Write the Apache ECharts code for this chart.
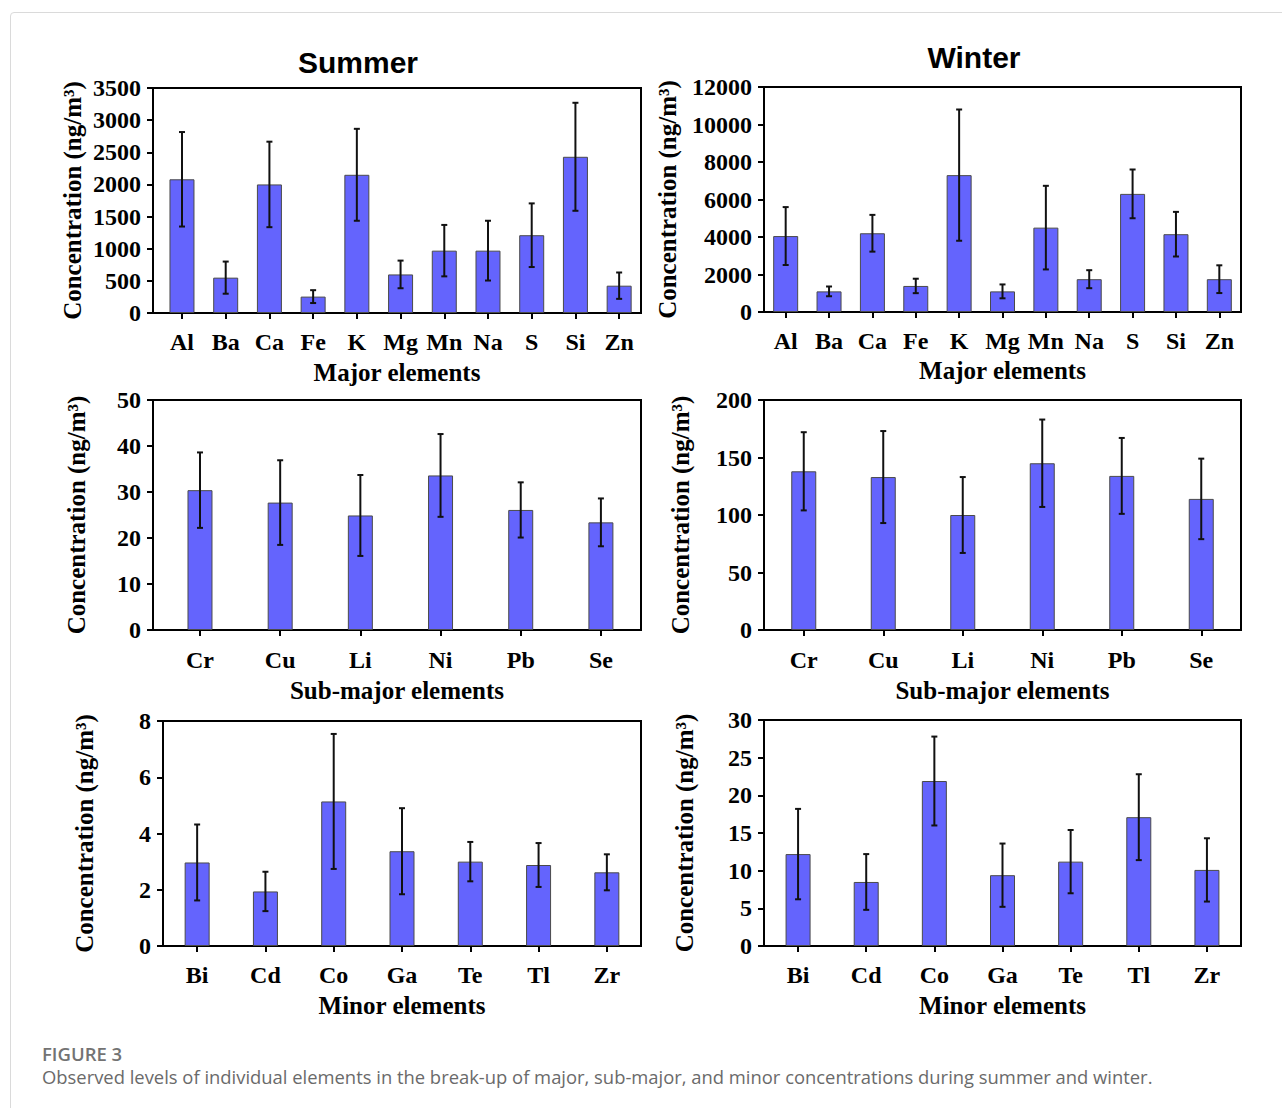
<!DOCTYPE html>
<html>
<head>
<meta charset="utf-8">
<title>Element concentrations, summer and winter</title>
<script src="https://cdn.jsdelivr.net/npm/echarts@6/dist/echarts.min.js"></script>
<style>
  html, body { margin: 0; padding: 0; background: #fff; }
  #wrap { position: relative; width: 1282px; height: 1108px; overflow: hidden; }
  #card {
    position: absolute; left: 10px; top: 12px; width: 1320px; height: 1200px;
    border: 1.5px solid #dadada; border-radius: 4px; box-sizing: border-box;
  }
  #chart { position: absolute; left: 0; top: 0; width: 1282px; height: 1108px; }
</style>
</head>
<body>
<div id="wrap">
  <div id="card"></div>
  <div id="chart"></div>
</div>
<script>
// Mean concentrations and standard deviations (ng/m³)
const majorCats = ['Al', 'Ba', 'Ca', 'Fe', 'K', 'Mg', 'Mn', 'Na', 'S', 'Si', 'Zn'];
const summerMajorMean = [2080, 550, 2000, 255, 2150, 600, 970, 970, 1210, 2430, 425];
const summerMajorSd   = [735, 250, 665, 100, 715, 215, 400, 465, 495, 840, 205];
const winterMajorMean = [4050, 1100, 4200, 1390, 7300, 1100, 4500, 1750, 6300, 4150, 1750];
const winterMajorSd   = [1545, 260, 980, 385, 3500, 370, 2230, 480, 1300, 1190, 740];

const subCats = ['Cr', 'Cu', 'Li', 'Ni', 'Pb', 'Se'];
const summerSubMean = [30.4, 27.7, 24.9, 33.6, 26.1, 23.4];
const summerSubSd   = [8.2, 9.2, 8.8, 9.0, 6.0, 5.2];
const winterSubMean = [138, 133, 100, 145, 134, 114];
const winterSubSd   = [34, 40, 33, 38, 33, 35];

const minorCats = ['Bi', 'Cd', 'Co', 'Ga', 'Te', 'Tl', 'Zr'];
const summerMinorMean = [2.97, 1.94, 5.14, 3.37, 3.0, 2.88, 2.62];
const summerMinorSd   = [1.35, 0.70, 2.40, 1.53, 0.70, 0.78, 0.64];
const winterMinorMean = [12.2, 8.5, 21.9, 9.4, 11.2, 17.1, 10.1];
const winterMinorSd   = [6.0, 3.7, 5.9, 4.2, 4.2, 5.7, 4.2];

// y-axis ranges
const summerMajorAxis = { max: 3500, interval: 500 };
const winterMajorAxis = { max: 12000, interval: 2000 };
const summerSubAxis   = { max: 50, interval: 10 };
const winterSubAxis   = { max: 200, interval: 50 };
const summerMinorAxis = { max: 8, interval: 2 };
const winterMinorAxis = { max: 30, interval: 5 };

const yTitle = 'Concentration (ng/m³)';
const SERIF = '"Liberation Serif", "Times New Roman", serif';
const BAR_COLOR = '#6464fd';

// panel layout: grid box, x padding (in category units), label gaps
const panels = [
  { cats: majorCats, mean: summerMajorMean, sd: summerMajorSd, axis: summerMajorAxis, xName: 'Major elements',
    grid: { left: 153, top: 88, width: 488, height: 225 }, xMin: -0.663, yGap: 68, xLabelGap: 17, xNameGap: 47 },
  { cats: majorCats, mean: winterMajorMean, sd: winterMajorSd, axis: winterMajorAxis, xName: 'Major elements',
    grid: { left: 764, top: 87, width: 477, height: 225 }, xMin: -0.5, yGap: 84, xLabelGap: 17, xNameGap: 46 },
  { cats: subCats, mean: summerSubMean, sd: summerSubSd, axis: summerSubAxis, xName: 'Sub-major elements',
    grid: { left: 153, top: 400, width: 488, height: 230 }, xMin: -0.586, yGap: 64, xLabelGap: 18, xNameGap: 48 },
  { cats: subCats, mean: winterSubMean, sd: winterSubSd, axis: winterSubAxis, xName: 'Sub-major elements',
    grid: { left: 764, top: 400, width: 477, height: 230 }, xMin: -0.5, yGap: 71, xLabelGap: 18, xNameGap: 48 },
  { cats: minorCats, mean: summerMinorMean, sd: summerMinorSd, axis: summerMinorAxis, xName: 'Minor elements',
    grid: { left: 163, top: 721, width: 478, height: 225 }, xMin: -0.5, yGap: 66, xLabelGap: 17, xNameGap: 47 },
  { cats: minorCats, mean: winterMinorMean, sd: winterMinorSd, axis: winterMinorAxis, xName: 'Minor elements',
    grid: { left: 764, top: 720, width: 477, height: 226 }, xMin: -0.5, yGap: 67, xLabelGap: 17, xNameGap: 47 }
];

// vertical error bar with short caps
function errorBar(params, api) {
  const x = api.value(0), m = api.value(1), s = api.value(2);
  const hi = api.coord([x, m + s]);
  const lo = api.coord([x, m - s]);
  const cap = 3;
  const style = { stroke: '#111', lineWidth: 2 };
  return {
    type: 'group',
    children: [
      { type: 'line', shape: { x1: hi[0], y1: hi[1], x2: lo[0], y2: lo[1] }, style },
      { type: 'line', shape: { x1: hi[0] - cap, y1: hi[1], x2: hi[0] + cap, y2: hi[1] }, style },
      { type: 'line', shape: { x1: lo[0] - cap, y1: lo[1], x2: lo[0] + cap, y2: lo[1] }, style }
    ]
  };
}

const grid = [], xAxis = [], yAxis = [], series = [];
panels.forEach((p, k) => {
  const idx = p.cats.map((_, i) => i);
  grid.push(Object.assign({ show: true, borderColor: '#000', borderWidth: 2,
    backgroundColor: 'transparent', containLabel: false, outerBoundsMode: 'none' }, p.grid));
  xAxis.push({
    type: 'value', gridIndex: k, min: p.xMin, max: p.cats.length - 0.5,
    splitLine: { show: false },
    axisLine: { show: true, onZero: false, lineStyle: { color: '#000', width: 2 } },
    axisTick: { show: true, customValues: idx, length: 6, lineStyle: { color: '#000', width: 2 } },
    axisLabel: { customValues: idx, formatter: v => p.cats[Math.round(v)], margin: p.xLabelGap,
      color: '#000', fontFamily: SERIF, fontWeight: 'bold', fontSize: 24 },
    name: p.xName, nameLocation: 'middle', nameGap: p.xNameGap,
    nameTextStyle: { color: '#000', fontFamily: SERIF, fontWeight: 'bold', fontSize: 25 }
  });
  yAxis.push({
    type: 'value', gridIndex: k, min: 0, max: p.axis.max, interval: p.axis.interval,
    splitLine: { show: false },
    axisLine: { show: true, onZero: false, lineStyle: { color: '#000', width: 2 } },
    axisTick: { show: true, length: 6, lineStyle: { color: '#000', width: 2 } },
    axisLabel: { margin: 12, formatter: v => String(v), color: '#000',
      fontFamily: SERIF, fontWeight: 'bold', fontSize: 24 },
    name: yTitle, nameLocation: 'middle', nameGap: p.yGap,
    nameTextStyle: { color: '#000', fontFamily: SERIF, fontWeight: 'bold', fontSize: 25 }
  });
  series.push({
    type: 'bar', xAxisIndex: k, yAxisIndex: k, barWidth: 25,
    itemStyle: { color: BAR_COLOR, borderColor: '#4a4a4a', borderWidth: 1 },
    data: p.mean.map((m, i) => [i, m])
  });
  series.push({
    type: 'custom', xAxisIndex: k, yAxisIndex: k, z: 5,
    renderItem: errorBar,
    data: p.mean.map((m, i) => [i, m, p.sd[i]])
  });
});

const chart = echarts.init(document.getElementById('chart'), null, { renderer: 'svg' });
chart.setOption({
  animation: false,
  grid, xAxis, yAxis, series,
  graphic: [
    { type: 'text', x: 358, y: 62, style: { text: 'Summer', textAlign: 'center', textVerticalAlign: 'middle',
      fill: '#000', font: 'bold 30px "Liberation Sans", Arial, sans-serif' } },
    { type: 'text', x: 974, y: 57, style: { text: 'Winter', textAlign: 'center', textVerticalAlign: 'middle',
      fill: '#000', font: 'bold 30px "Liberation Sans", Arial, sans-serif' } },
    { type: 'text', x: 42, y: 1053, style: { text: 'FIGURE 3', textAlign: 'left', textVerticalAlign: 'middle',
      fill: '#737373', font: '600 18.5px "Open Sans", sans-serif' } },
    { type: 'text', x: 42, y: 1076, style: {
      text: 'Observed levels of individual elements in the break-up of major, sub-major, and minor concentrations during summer and winter.',
      textAlign: 'left', textVerticalAlign: 'middle',
      fill: '#6a6a6a', font: '18.4px "Open Sans", sans-serif' } }
  ]
});
</script>
</body>
</html>
